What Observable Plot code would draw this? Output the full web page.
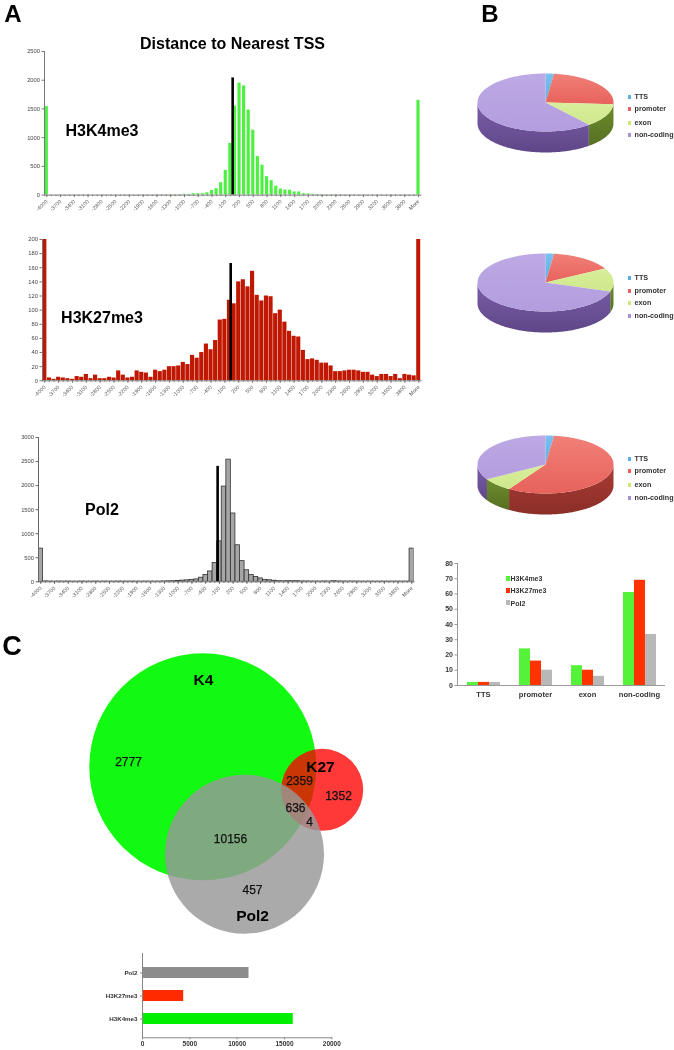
<!DOCTYPE html>
<html>
<head>
<meta charset="utf-8">
<script src="https://cdn.jsdelivr.net/npm/d3@7"></script>
<script src="https://cdn.jsdelivr.net/npm/@observablehq/plot@0.6"></script>
<style>
html,body{margin:0;padding:0;background:#fff;}
#page{position:relative;width:674px;height:1050px;overflow:hidden;font-family:"Liberation Sans",Arial,sans-serif;color:#000;filter:blur(0.4px);}
#page svg{position:absolute;background:transparent;overflow:visible;}
.t{position:absolute;white-space:nowrap;transform:translate(-50%,-50%);font-weight:700;line-height:1;}
.big{line-height:.8;}
.l{position:absolute;white-space:nowrap;font-weight:700;line-height:1;color:#333;transform:translateY(-50%);}
.s{position:absolute;}
</style>
</head>
<body>
<div id="page"></div>
<script>
// ---------- Panel A: distance histograms ----------
const bins = [...d3.range(-4000, 4001, 100).map(String), "More"];
const binLabels = ["-4000","-3700","-3400","-3100","-2800","-2500","-2200","-1900","-1600","-1300","-1000","-700","-400","-100","200","500","800","1100","1400","1700","2000","2300","2600","2900","3200","3500","3800","More"];
const h3k4me3Counts = [1540,2,2,3,2,2,2,3,2,3,2,3,2,3,4,3,3,4,5,4,3,3,4,4,3,4,5,8,8,10,15,12,25,25,25,40,80,110,215,430,900,1550,1950,1900,1480,1130,670,520,320,250,155,105,90,85,55,55,25,20,15,12,10,8,8,5,8,4,4,3,3,3,2,2,2,2,2,3,4,3,2,2,2,1650];
const h3k27me3Counts = [200,4,2,5,4,3,2,6,5,9,3,8,3,3,5,4,14,8,4,5,14,12,11,5,15,13,15,20,20,21,26,23,36,32,40,52,44,57,86,87,114,109,140,143,133,155,121,113,120,119,95,100,83,70,63,62,43,30,31,29,25,25,21,13,13,14,15,15,14,12,12,8,6,9,9,6,9,3,9,8,7,200];
const pol2Counts = [690,8,6,5,6,5,6,5,5,6,5,5,6,5,6,5,5,6,5,5,6,5,5,6,5,5,6,8,10,12,18,25,30,40,50,85,140,215,390,840,1980,2540,1420,760,430,240,140,100,70,40,32,22,12,10,12,12,12,8,8,6,6,6,8,6,12,8,6,6,6,6,5,5,5,5,5,5,5,5,5,5,5,690];
const tssMarks = {h3k4me3: 2040, h3k27me3: 166, pol2: 2400};

// ---------- Panel B: genomic annotation ----------
const regions = ["TTS","promoter","exon","non-coding"];
const pieH3k4me3 = [2,24,13,61];
const pieH3k27me3 = [2,15,13,70];
const piePol2 = [2,57,7.5,33.5];
const barSeries = ["H3K4me3","H3K27me3","Pol2"];
const barH3k4me3 = [2,24,13,61];
const barH3k27me3 = [2,16,10,69];
const barPol2 = [2,10,6,33.5];

// ---------- Panel C: overlaps ----------
const vennSets = ["K4","K27","Pol2"];
const vennX = [202.3,321.7,244];
const vennY = [766.3,789.3,853.7];
const vennR = [113.5,41,79.5];
const vennLabels = ["K4","K27","Pol2"];
const vennLabelX = [203,320,252];
const vennLabelY = [680,767,916];
const overlapCounts = ["2777","2359","1352","636","4","10156","457"];
const overlapX = [128,299,338,295,309,230,252];
const overlapY = [762,781,796,808,822,839,890];
const totalNames = ["Pol2","H3K27me3","H3K4me3"];
const totalValues = [11253,4351,15928];

const page = document.getElementById("page");

function place(frame, pad, options) {
  const svg = Plot.plot({
    width: frame.r - frame.l + pad[3] + pad[1],
    height: frame.b - frame.t + pad[0] + pad[2],
    marginTop: pad[0], marginRight: pad[1], marginBottom: pad[2], marginLeft: pad[3],
    style: {background: "transparent", fontFamily: '"Liberation Sans",Arial,sans-serif', overflow: "visible"},
    ...options
  });
  svg.style.left = (frame.l - pad[3]) + "px";
  svg.style.top = (frame.t - pad[0]) + "px";
  page.appendChild(svg);
  return svg;
}
function label(cls, text, x, y, size, color) {
  const d = document.createElement("div");
  d.className = cls; d.textContent = text;
  d.style.left = x + "px"; d.style.top = y + "px"; d.style.fontSize = size + "px";
  if (color) d.style.color = color;
  page.appendChild(d);
  return d;
}

// Histogram helper
function histogram({frame, counts, yMax, yTicks, fill, stroke, strokeWidth, padding, tss, tssDx, tssBin, axisColor}) {
  const data = counts.map((c, i) => ({bin: bins[i], count: c}));
  place(frame, [8,8,24,26], {
    x: {domain: bins, padding, paddingOuter: padding / 2, label: null},
    y: {domain: [0, yMax], label: null},
    marks: [
      Plot.barY(data, {x: "bin", y: "count", fill, stroke: stroke || "none", strokeWidth: strokeWidth || 0, clip: true}),
      Plot.ruleX([tssBin], {x: d => d, y1: 0, y2: tss, stroke: "#000", strokeWidth: 2.6, dx: tssDx}),
      Plot.frame({anchor: "left", stroke: axisColor}),
      Plot.frame({anchor: "bottom", stroke: axisColor}),
      Plot.axisX({ticks: bins, tickFormat: () => "", tickSize: 1.5, stroke: axisColor}),
      Plot.axisX({ticks: binLabels, tickSize: 2.5, tickPadding: 3, tickRotate: -45, fontSize: 5.4, fill: "#555", stroke: axisColor, label: null}),
      Plot.axisY({ticks: yTicks, tickSize: 2.5, tickPadding: 2, fontSize: 5.8, fill: "#444", stroke: axisColor, label: null, tickFormat: d => String(d)})
    ]
  });
}

histogram({frame: {l: 44, r: 420.3, t: 50.7, b: 194.3}, counts: h3k4me3Counts, yMax: 2500, yTicks: d3.range(0, 2501, 500),
  fill: "#4cf040", padding: 0.32, tss: tssMarks.h3k4me3, tssBin: "0", tssDx: 2.3, axisColor: "#777"});
histogram({frame: {l: 41.7, r: 420.3, t: 238.7, b: 380}, counts: h3k27me3Counts, yMax: 200, yTicks: d3.range(0, 201, 20),
  fill: "#c01800", padding: 0.1, tss: tssMarks.h3k27me3, tssBin: "0", tssDx: 1.2, axisColor: "#777"});
histogram({frame: {l: 37.7, r: 413.3, t: 436.7, b: 581}, counts: pol2Counts, yMax: 3000, yTicks: d3.range(0, 3001, 500),
  fill: "#a6a6a6", stroke: "#333", strokeWidth: 0.8, padding: 0.02, tss: tssMarks.pol2, tssBin: "-100", tssDx: -1.8, axisColor: "#666"});

label("t", "Distance to Nearest TSS", 232.5, 44, 16);
label("t", "H3K4me3", 102, 131, 16);
label("t", "H3K27me3", 102, 318, 16);
label("t", "Pol2", 102, 510, 16);
label("t big", "A", 13, 13.5, 24);
label("t big", "B", 490, 13.5, 24);
label("t big", "C", 12, 647, 27);

// Pie charts
const pieTop = ["#5aaee8","#e8625c","#cfe88a","#b39ddf"];
const pieLight = ["#7cc0ee","#f08078","#d8ee9c","#bda9e4"];
const pieSide = ["#2f7cb0","#a83c34","#6d8c2c","#7a5ea8"];
const pieSideDark = ["#256890","#8c2e28","#567022","#5f4688"];
const legendSwatch = ["#5aaee8","#e8625c","#c8e878","#a98ed8"];

function pie({frame, values, id, legendY, legendX}) {
  const depth = 21, ry = (frame.b - frame.t - depth) / 2;
  const total = d3.sum(values);
  const cum = d3.cumsum(values);
  const du = depth / ry;
  const marks = [];
  marks.push(() => {
    const defs = d3.create("svg:defs");
    regions.forEach((r, i) => {
      const g = defs.append("linearGradient").attr("id", `${id}t${i}`).attr("x1", 0).attr("x2", 0).attr("y1", 0).attr("y2", 1);
      g.append("stop").attr("offset", 0).attr("stop-color", pieLight[i]);
      g.append("stop").attr("offset", 1).attr("stop-color", pieTop[i]);
      const s = defs.append("linearGradient").attr("id", `${id}s${i}`).attr("x1", 0).attr("x2", 0).attr("y1", 0).attr("y2", 1);
      s.append("stop").attr("offset", 0).attr("stop-color", pieSide[i]);
      s.append("stop").attr("offset", 1).attr("stop-color", pieSideDark[i]);
    });
    return defs.node();
  });
  values.forEach((v, i) => {
    const a0 = (i ? cum[i - 1] : 0) / total * 360, a1 = cum[i] / total * 360;
    const lo = Math.max(a0, 90), hi = Math.min(a1, 270);
    if (hi > lo) {
      const arc = d3.range(lo, hi, 1).concat(hi).map(a => a * Math.PI / 180);
      const side = [...arc.map(t => ({x: Math.sin(t), y: Math.cos(t)})), ...arc.reverse().map(t => ({x: Math.sin(t), y: Math.cos(t) - du}))];
      marks.push(Plot.line(side, {x: "x", y: "y", fill: `url(#${id}s${i})`, stroke: "none"}));
    }
  });
  values.forEach((v, i) => {
    const a0 = (i ? cum[i - 1] : 0) / total * 360, a1 = cum[i] / total * 360;
    const arc = d3.range(a0, a1, 1).concat(a1).map(a => a * Math.PI / 180);
    const slice = [{x: 0, y: 0}, ...arc.map(t => ({x: Math.sin(t), y: Math.cos(t)}))];
    marks.push(Plot.line(slice, {x: "x", y: "y", fill: `url(#${id}t${i})`, stroke: "none"}));
  });
  place(frame, [0,0,0,0], {
    x: {domain: [-1, 1], axis: null},
    y: {domain: [-1 - du, 1], axis: null},
    marks
  });
  regions.forEach((r, i) => {
    const sw = document.createElement("div");
    sw.className = "s";
    sw.style.cssText = `left:${legendX - 3.5}px;top:${legendY[i] - 2}px;width:3.5px;height:4px;background:${legendSwatch[i]}`;
    page.appendChild(sw);
    label("l", r, legendX + 3.5, legendY[i], 7.2);
  });
}
pie({frame: {l: 476.7, r: 612.7, t: 72.7, b: 151.7}, values: pieH3k4me3, id: "p1", legendX: 631, legendY: [96.7,109.3,122.7,135.3]});
pie({frame: {l: 476.7, r: 612.7, t: 253.3, b: 332.3}, values: pieH3k27me3, id: "p2", legendX: 631, legendY: [277.7,290.7,303.3,316.3]});
pie({frame: {l: 476.7, r: 612.7, t: 435, b: 514}, values: piePol2, id: "p3", legendX: 631, legendY: [459,471.3,484.7,497.7]});

// Grouped bars
const groupedRows = regions.flatMap((r, i) => [
  {region: r, series: barSeries[0], value: barH3k4me3[i]},
  {region: r, series: barSeries[1], value: barH3k27me3[i]},
  {region: r, series: barSeries[2], value: barPol2[i]}
]);
const seriesColors = ["#55f23a","#ff3300","#b8b8b8"];
place({l: 455, r: 666.7, t: 562.7, b: 684.7}, [6,6,22,18], {
  fx: {domain: regions, padding: 0, label: null},
  x: {domain: barSeries, paddingInner: 0, paddingOuter: 0.71, axis: null, label: null},
  y: {domain: [0, 80], label: null},
  color: {domain: barSeries, range: seriesColors},
  marks: [
    Plot.barY(groupedRows, {fx: "region", x: "series", y: "value", fill: "series"}),
    Plot.ruleY([0], {stroke: "#999"}),
    Plot.axisY({ticks: d3.range(0, 81, 10), tickSize: 2.5, tickPadding: 2, fontSize: 7, fontWeight: 700, fill: "#333", stroke: "#999", label: null}),
    Plot.axisFx({anchor: "bottom", tickSize: 0, tickPadding: 6, fontSize: 7.6, fontWeight: 700, fill: "#333", label: null}),
    Plot.frame({anchor: "left", facet: "super", stroke: "#999"})
  ]
});
barSeries.forEach((s, i) => {
  const y = [578, 590, 602.7][i];
  const sw = document.createElement("div");
  sw.className = "s";
  sw.style.cssText = `left:506px;top:${y - 2.5}px;width:4px;height:5px;background:${seriesColors[i]}`;
  page.appendChild(sw);
  label("l", s, 510.5, y, 7);
});

// Venn diagram
const vennRows = vennSets.map((s, i) => ({set: s, x: vennX[i], y: vennY[i], r: vennR[i]}));
const vennColors = ["#12fa12","#ff0000","#979797"];
const vennOpacity = [1, 0.78, 0.82];
const vennFrame = {l: 80, r: 370, t: 645, b: 935};
place(vennFrame, [0,0,0,0], {
  x: {domain: [vennFrame.l, vennFrame.r], axis: null},
  y: {domain: [vennFrame.b, vennFrame.t], axis: null},
  r: {type: "identity"},
  marks: [
    ...vennRows.map((d, i) => Plot.dot([d], {x: "x", y: "y", r: "r", fill: vennColors[i], fillOpacity: vennOpacity[i], stroke: "none"})),
    Plot.text(overlapCounts, {x: (d, i) => overlapX[i], y: (d, i) => overlapY[i], text: d => d, fontSize: 12, fill: "#111", stroke: "#111", strokeWidth: 0.25}),
    Plot.text(vennLabels, {x: (d, i) => vennLabelX[i], y: (d, i) => vennLabelY[i], text: d => d, fontSize: 15.5, fontWeight: 700, fill: "#000"})
  ]
});

// Totals
const totalRows = totalNames.map((n, i) => ({name: n, value: totalValues[i]}));
const totalColors = ["#8c8c8c","#ff2a00","#00ee00"];
place({l: 142, r: 331.3, t: 953.4, b: 1037.7}, [2,12,12,46], {
  x: {domain: [0, 20000], label: null},
  y: {domain: totalNames, padding: 0.515, label: null},
  marks: [
    ...totalRows.map((d, i) => Plot.barX([d], {x: "value", y: "name", fill: totalColors[i]})),
    Plot.frame({anchor: "left", stroke: "#888"}),
    Plot.frame({anchor: "bottom", stroke: "#888"}),
    Plot.axisX({ticks: d3.range(0, 20001, 5000), tickSize: 2, tickPadding: 2, fontSize: 6.5, fontWeight: 700, fill: "#333", stroke: "#888", label: null, tickFormat: d => String(d)}),
    Plot.axisY({tickSize: 2, tickPadding: 3, fontSize: 6.2, fontWeight: 700, fill: "#333", stroke: "#888", label: null})
  ]
});
</script>
</body>
</html>
